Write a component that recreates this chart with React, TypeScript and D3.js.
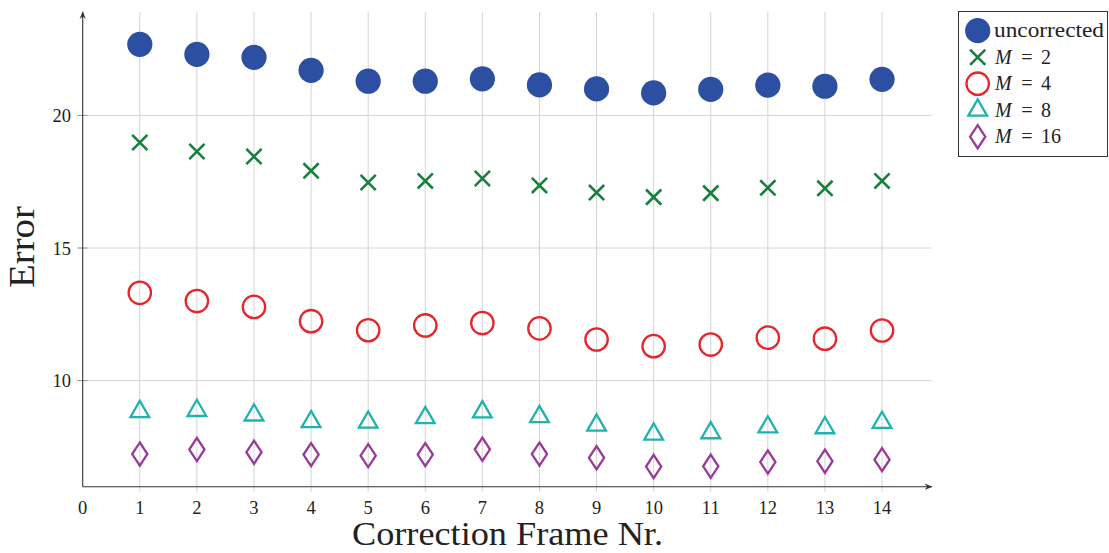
import * as d3 from "d3";

const frames = [1, 2, 3, 4, 5, 6, 7, 8, 9, 10, 11, 12, 13, 14];
const uncorrected = [22.68, 22.3, 22.19, 21.7, 21.29, 21.29, 21.38, 21.15, 21.0, 20.85, 20.98, 21.14, 21.1, 21.36];
const m2 = [18.98, 18.64, 18.45, 17.91, 17.47, 17.53, 17.62, 17.36, 17.09, 16.92, 17.07, 17.27, 17.25, 17.53];
const m4 = [13.31, 13.0, 12.78, 12.24, 11.9, 12.08, 12.17, 11.97, 11.55, 11.3, 11.36, 11.62, 11.58, 11.89];
const m8 = [8.83, 8.87, 8.7, 8.45, 8.43, 8.6, 8.82, 8.64, 8.32, 7.98, 8.03, 8.25, 8.22, 8.42];
const m16 = [7.23, 7.4, 7.3, 7.21, 7.17, 7.21, 7.41, 7.23, 7.09, 6.76, 6.77, 6.93, 6.96, 7.02];

const xTicks = [0, 1, 2, 3, 4, 5, 6, 7, 8, 9, 10, 11, 12, 13, 14];
const yTicks = [10, 15, 20];

const legendLabels = ["uncorrected", "2", "4", "8", "16"];

const BLUE = "#2c4fa1";
const GREEN = "#17803d";
const RED = "#e6262a";
const TEAL = "#1fb3ae";
const PURPLE = "#993a99";

const FONT = "'Liberation Serif', 'DejaVu Serif', serif";
const AXIS = "#333";
const GRID = "#d4d4d4";

const width = 1109;
const height = 553;

// marker drawing helpers, all centred on (cx, cy)
const marker = (kind: string, cx: number, cy: number, key: string | number) => {
  if (kind === "dot")
    return <circle key={key} cx={cx} cy={cy} r={12.6} fill={BLUE} />;
  if (kind === "cross") {
    const s = 7.6;
    return (
      <path
        key={key}
        d={`M${cx - s},${cy - s}L${cx + s},${cy + s}M${cx - s},${cy + s}L${cx + s},${cy - s}`}
        stroke={GREEN}
        strokeWidth={2.6}
        fill="none"
      />
    );
  }
  if (kind === "circle")
    return <circle key={key} cx={cx} cy={cy} r={11.2} fill="none" stroke={RED} strokeWidth={2.3} />;
  if (kind === "triangle") {
    const r = 10.8;
    const h = (r * Math.sqrt(3)) / 2;
    return (
      <path
        key={key}
        d={`M${cx},${cy - r}L${cx + h},${cy + r / 2}L${cx - h},${cy + r / 2}Z`}
        fill="none"
        stroke={TEAL}
        strokeWidth={2.3}
      />
    );
  }
  const hy = 11.6;
  const hx = 7.6;
  return (
    <path
      key={key}
      d={`M${cx},${cy - hy}L${cx + hx},${cy}L${cx},${cy + hy}L${cx - hx},${cy}Z`}
      fill="none"
      stroke={PURPLE}
      strokeWidth={2.3}
    />
  );
};

const series = [
  { kind: "dot", values: uncorrected },
  { kind: "cross", values: m2 },
  { kind: "circle", values: m4 },
  { kind: "triangle", values: m8 },
  { kind: "diamond", values: m16 },
];

export default function App() {
  const x = d3.scaleLinear().domain([0, 14.87]).range([82.7, 931.7]);
  const y = d3.scaleLinear().domain([6, 23.9]).range([486.7, 12]);

  const [x0, x1] = x.range();
  const [y0, y1] = y.range();

  return (
    <svg
      width={width}
      height={height}
      style={{ position: "absolute", left: 0, top: 0, background: "#fff" }}
    >
      <defs>
        <marker id="arr" viewBox="0 0 10 10" refX="9" refY="5" markerWidth="7" markerHeight="7" orient="auto">
          <path d="M0,1 L10,5 L0,9 L3,5 Z" fill={AXIS} />
        </marker>
      </defs>

      {/* grid */}
      {frames.map((f) => (
        <line key={`gx${f}`} x1={x(f)} x2={x(f)} y1={y1} y2={y0 + 5} stroke={GRID} strokeWidth={1} />
      ))}
      {yTicks.map((t) => (
        <line key={`gy${t}`} x1={x0 - 5} x2={x1} y1={y(t)} y2={y(t)} stroke={GRID} strokeWidth={1} />
      ))}
      {yTicks.map((t) => (
        <line key={`ty${t}`} x1={x0 - 5} x2={x0 + 5} y1={y(t)} y2={y(t)} stroke="#999" strokeWidth={1} />
      ))}

      {/* axes */}
      <line x1={x0} x2={x1} y1={y0} y2={y0} stroke={AXIS} strokeWidth={1.1} markerEnd="url(#arr)" />
      <line x1={x0} x2={x0} y1={y0} y2={y1} stroke={AXIS} strokeWidth={1.1} markerEnd="url(#arr)" />

      {/* tick labels */}
      {xTicks.map((t) => (
        <text key={`lx${t}`} x={x(t)} y={514} textAnchor="middle" fontFamily={FONT} fontSize={18.5} fill="#222">
          {t}
        </text>
      ))}
      {yTicks.map((t) => (
        <text key={`ly${t}`} x={71} y={y(t) + 6.5} textAnchor="end" fontFamily={FONT} fontSize={18.5} fill="#222">
          {t}
        </text>
      ))}

      {/* axis labels */}
      <text
        x={352}
        y={545}
        fontFamily={FONT}
        fontSize={33}
        fill="#222"
        textLength={311}
        lengthAdjust="spacingAndGlyphs"
      >
        Correction Frame Nr.
      </text>
      <text
        transform={`translate(34,288) rotate(-90)`}
        fontFamily={FONT}
        fontSize={35}
        fill="#222"
        textLength={82}
        lengthAdjust="spacingAndGlyphs"
      >
        Error
      </text>

      {/* marks */}
      {series.map((s) => (
        <g key={s.kind}>{s.values.map((v, i) => marker(s.kind, x(frames[i]), y(v), i))}</g>
      ))}

      {/* legend */}
      <rect x={958.5} y={11.5} width={149} height={145} fill="#fff" stroke={AXIS} strokeWidth={1} />
      {series.map((s, i) => {
        const cy = 30.7 + i * 26.5;
        return (
          <g key={`lg${i}`}>
            {marker(s.kind, 977.7, cy, "m")}
            {i === 0 ? (
              <text
                x={994}
                y={cy + 6.5}
                fontFamily={FONT}
                fontSize={20}
                fill="#222"
                textLength={110}
                lengthAdjust="spacingAndGlyphs"
              >
                {legendLabels[i]}
              </text>
            ) : (
              <g fontFamily={FONT} fontSize={20} fill="#222">
                <text x={995} y={cy + 6.5} fontStyle="italic">
                  M
                </text>
                <text x={1027} y={cy + 6.5} textAnchor="middle">
                  =
                </text>
                <text x={1041} y={cy + 6.5}>
                  {legendLabels[i]}
                </text>
              </g>
            )}
          </g>
        );
      })}
    </svg>
  );
}
